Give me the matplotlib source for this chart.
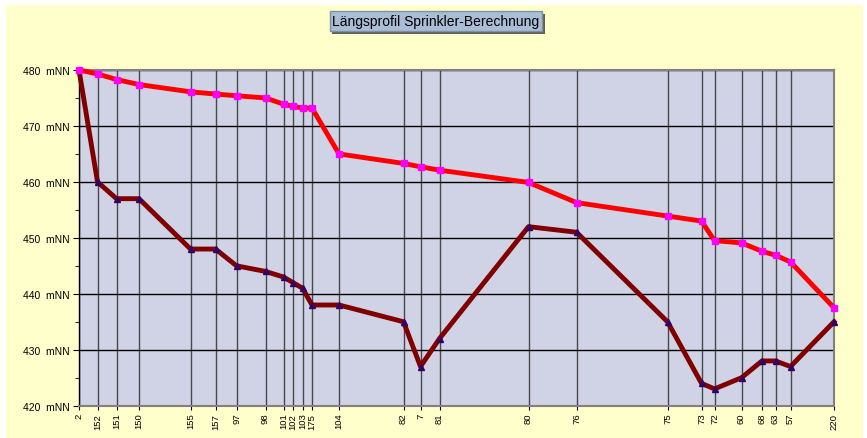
import matplotlib
matplotlib.use("Agg")
import matplotlib.pyplot as plt
from matplotlib.patches import Rectangle
from matplotlib.ticker import MultipleLocator, FuncFormatter
import matplotlib.patheffects as pe

plt.rcParams['font.family'] = ['Liberation Sans', 'DejaVu Sans']

# Station labels (node ids) along the profile
nodes = ["2", "152", "151", "150", "155", "157", "97", "98", "101", "102", "103", "175",
         "104", "82", "7", "81", "80", "76", "75", "73", "72", "60", "68", "63", "57", "220"]
# Distance along the pipe (m)
distance = [0.0, 3.7, 7.5, 12.0, 22.3, 27.3, 31.5, 37.3, 40.9, 42.8, 44.7, 46.6,
            52.0, 64.9, 68.3, 72.1, 89.9, 99.5, 117.7, 124.5, 127.1, 132.5, 136.6, 139.3, 142.3, 151.0]
# Pressure line (upper, red)
pressure_line = [480.0, 479.3, 478.3, 477.4, 476.1, 475.7, 475.4, 475.0, 473.9, 473.5, 473.2, 473.2,
                 465.0, 463.3, 462.7, 462.1, 459.9, 456.3, 453.9, 453.0, 449.5, 449.1, 447.6, 446.9, 445.7, 437.5]
# Terrain / pipe elevation (lower, dark red)
elevation = [480, 460, 457, 457, 448, 448, 445, 444, 443, 442, 441, 438,
             438, 435, 427, 432, 452, 451, 435, 424, 423, 425, 428, 428, 427, 435]

title = "Längsprofil Sprinkler-Berechnung"

W, H = 867, 439
fig = plt.figure(figsize=(W / 100, H / 100), dpi=100, facecolor="white")

# light yellow chart area
fig.patches.append(Rectangle((6 / W, 0), (863 - 6) / W, (439 - 6) / H,
                             transform=fig.transFigure, facecolor="#FFFFCC",
                             edgecolor="none", zorder=-10))

left, right, top, bottom = 79, 834, 71, 406.7
ax = fig.add_axes([left / W, (H - bottom) / H, (right - left) / W, (bottom - top) / H])
ax.set_zorder(1)
ax.set_facecolor("#D0D3E5")

ax.set_xlim(distance[0], distance[-1])
ax.set_ylim(420, 480)

# grid
ax.yaxis.set_major_locator(MultipleLocator(10))
ax.yaxis.set_minor_locator(MultipleLocator(5))
ax.grid(axis="y", which="major", color="black", linewidth=1.0, zorder=1)
for d in distance:
    ax.axvline(d, color="#303030", linewidth=1.0, zorder=1, alpha=0.85)

ax.set_xticks(distance)
ax.set_xticklabels(nodes, rotation=90, fontsize=6.8)
ax.yaxis.set_major_formatter(FuncFormatter(lambda v, p: f"{int(v)}  mNN"))
ax.tick_params(axis="y", which="major", labelsize=7.5, length=4, direction="out", color="black", pad=3)
ax.tick_params(axis="y", which="minor", length=3, direction="out", color="black")
ax.tick_params(axis="x", length=3, direction="out", color="black", pad=2)

for s in ["top", "right", "bottom"]:
    ax.spines[s].set_color("#808080")
    ax.spines[s].set_linewidth(1.5)
ax.spines["left"].set_color("black")
ax.spines["left"].set_linewidth(1.0)

ax.plot(distance, elevation, color="#800000", linewidth=3.5, marker="^", markersize=4.5,
        markerfacecolor="#330066", markeredgecolor="#330066", zorder=3, clip_on=False)
ax.plot(distance, pressure_line, color="#FF0000", linewidth=3.5, marker="s", markersize=4.8,
        markerfacecolor="#FF00FF", markeredgecolor="#FF00FF", zorder=4, clip_on=False)

# title with shadowed box
t = fig.text(436 / W, (H - 22) / H, title, ha="center", va="center", fontsize=10, color="black",
             bbox=dict(boxstyle="square,pad=0.2", facecolor="#A9BDD6", edgecolor="#8090A0"))
t.get_bbox_patch().set_path_effects([pe.SimplePatchShadow(offset=(2, -2), shadow_rgbFace="#505050", alpha=0.9),
                                     pe.Normal()])

fig.savefig("out.png", dpi=100, facecolor="white")
